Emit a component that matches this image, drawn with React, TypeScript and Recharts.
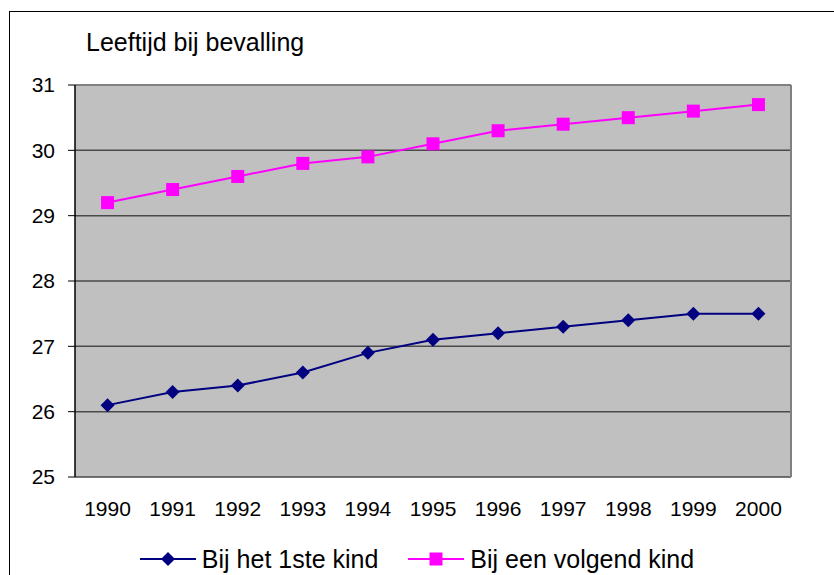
import {
  LineChart,
  Line,
  XAxis,
  YAxis,
  CartesianGrid,
  ReferenceLine,
  Legend,
} from "recharts";

const years = [1990, 1991, 1992, 1993, 1994, 1995, 1996, 1997, 1998, 1999, 2000];
const firstChild = [26.1, 26.3, 26.4, 26.6, 26.9, 27.1, 27.2, 27.3, 27.4, 27.5, 27.5];
const nextChild = [29.2, 29.4, 29.6, 29.8, 29.9, 30.1, 30.3, 30.4, 30.5, 30.6, 30.7];
const yTicks = [25, 26, 27, 28, 29, 30, 31];
const bandEdges = [1989.5, 1990.5, 1991.5, 1992.5, 1993.5, 1994.5, 1995.5, 1996.5, 1997.5, 1998.5, 1999.5, 2000.5];

const NAVY = "#000080";
const MAGENTA = "#FF00FF";
const FONT = "'Liberation Sans', Arial, sans-serif";

const data = years.map((year, i) => ({
  year,
  first: firstChild[i],
  next: nextChild[i],
}));

function Diamond({ cx, cy, fill, size = 7 }: any) {
  if (cx == null || cy == null) return null;
  return (
    <path
      d={`M${cx},${cy - size} L${cx + size},${cy} L${cx},${cy + size} L${cx - size},${cy} Z`}
      fill={fill}
    />
  );
}

function Square({ cx, cy, fill, size = 6.5 }: any) {
  if (cx == null || cy == null) return null;
  return <rect x={cx - size} y={cy - size} width={size * 2} height={size * 2} fill={fill} />;
}

function LegendContent() {
  const item = (label: string, color: string, marker: "diamond" | "square") => (
    <div style={{ display: "flex", alignItems: "center" }}>
      <svg width={56} height={20}>
        <line x1={0} y1={10} x2={56} y2={10} stroke={color} strokeWidth={2} />
        {marker === "diamond" ? (
          <Diamond cx={28} cy={10} fill={color} />
        ) : (
          <Square cx={28} cy={10} fill={color} />
        )}
      </svg>
      <span style={{ marginLeft: 6, fontSize: 25, lineHeight: "24px" }}>{label}</span>
    </div>
  );
  return (
    <div
      style={{
        display: "flex",
        justifyContent: "center",
        gap: 30,
        height: 24,
        fontFamily: FONT,
        color: "#000",
      }}
    >
      {item("Bij het 1ste kind", NAVY, "diamond")}
      {item("Bij een volgend kind", MAGENTA, "square")}
    </div>
  );
}

export default function App() {
  return (
    <div
      style={{
        position: "absolute",
        left: 0,
        top: 0,
        width: 834,
        height: 575,
        overflow: "hidden",
        background: "#fff",
        fontFamily: FONT,
      }}
    >
      <div
        style={{
          position: "absolute",
          left: 9,
          top: 11,
          width: 840,
          height: 600,
          border: "1px solid #000",
        }}
      />
      <div
        style={{
          position: "absolute",
          left: 86,
          top: 27,
          fontSize: 25,
          lineHeight: "30px",
          color: "#000",
        }}
      >
        Leeftijd bij bevalling
      </div>
      <div style={{ position: "absolute", left: 0, top: 0 }}>
        <LineChart
          width={834}
          height={575}
          data={data}
          margin={{ top: 85, right: 43, left: 0, bottom: 34 }}
        >
          <CartesianGrid
            horizontal
            vertical={false}
            fill="#C0C0C0"
            fillOpacity={1}
            stroke="#4a4a4a"
            strokeWidth={1.5}
            yAxisId="y"
            xAxisId="lbl"
          />
          <XAxis
            xAxisId="edges"
            type="number"
            dataKey="year"
            domain={[1989.5, 2000.5]}
            ticks={bandEdges}
            tickFormatter={() => ""}
            height={0}
            tickSize={6}
            axisLine={{ stroke: "#000", strokeWidth: 2 }}
            tickLine={{ stroke: "#000", strokeWidth: 1 }}
            allowDataOverflow
          />
          <XAxis
            xAxisId="lbl"
            type="number"
            dataKey="year"
            domain={[1989.5, 2000.5]}
            ticks={years}
            height={40}
            tickLine={false}
            axisLine={false}
            tickSize={6}
            tickMargin={18}
            tick={{ fill: "#000", fontSize: 21, fontFamily: FONT }}
            allowDataOverflow
          />
          <YAxis
            yAxisId="y"
            width={75}
            domain={[25, 31]}
            ticks={yTicks}
            tickSize={7}
            tickMargin={13}
            axisLine={{ stroke: "#000", strokeWidth: 1.5 }}
            tickLine={{ stroke: "#000" }}
            tick={{ fill: "#000", fontSize: 21, fontFamily: FONT }}
            allowDataOverflow
          />
          <ReferenceLine yAxisId="y" xAxisId="lbl" y={31} stroke="#808080" strokeWidth={2} />
          <ReferenceLine yAxisId="y" xAxisId="lbl" x={2000.5} stroke="#808080" strokeWidth={2} />
          <Line
            yAxisId="y"
            xAxisId="lbl"
            type="linear"
            dataKey="first"
            name="Bij het 1ste kind"
            stroke={NAVY}
            strokeWidth={2}
            dot={(p: any) => <Diamond key={`d${p.index}`} cx={p.cx} cy={p.cy} fill={NAVY} />}
            activeDot={false}
            isAnimationActive={false}
          />
          <Line
            yAxisId="y"
            xAxisId="lbl"
            type="linear"
            dataKey="next"
            name="Bij een volgend kind"
            stroke={MAGENTA}
            strokeWidth={2}
            dot={(p: any) => <Square key={`s${p.index}`} cx={p.cx} cy={p.cy} fill={MAGENTA} />}
            activeDot={false}
            isAnimationActive={false}
          />
          <Legend
            verticalAlign="bottom"
            content={() => <LegendContent />}
            wrapperStyle={{ left: 0, width: 834, bottom: 4 }}
          />
        </LineChart>
      </div>
    </div>
  );
}
